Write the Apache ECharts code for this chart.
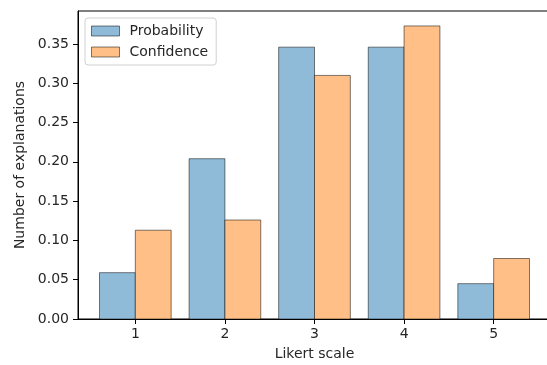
<!DOCTYPE html>
<html>
<head>
<meta charset="utf-8">
<script src="https://cdn.jsdelivr.net/npm/echarts@6/dist/echarts.min.js"></script>
<style>
  html, body { margin: 0; padding: 0; background: #fff; }
  #chart { width: 547px; height: 365px; }
</style>
</head>
<body>
<div id="chart"></div>
<script>
// Likert scale categories and the two series
const likert = [1, 2, 3, 4, 5];
const probability = [0.059, 0.204, 0.346, 0.346, 0.045];
const confidence = [0.113, 0.126, 0.310, 0.373, 0.077];
const yTicks = [0, 0.05, 0.1, 0.15, 0.2, 0.25, 0.3, 0.35];

const BAR_W = 0.4;
const font = "DejaVu Sans";
const textColor = "#262626";

// one rectangle per bar, placed via the value axes
const barRenderer = (offset, fill) => (params, api) => {
  const x = api.value(0);
  const v = api.value(1);
  const p0 = api.coord([x + offset, v]);
  const p1 = api.coord([x + offset + BAR_W, 0]);
  return {
    type: "rect",
    shape: { x: p0[0], y: p0[1], width: p1[0] - p0[0], height: p1[1] - p0[1] },
    style: { fill: fill, stroke: "rgba(0,0,0,0.5)", lineWidth: 1 },
  };
};

const blue = "#8fbbd9";
const orange = "#ffbf86";

const chart = echarts.init(document.getElementById("chart"));
chart.setOption({
  backgroundColor: "#fff",
  animation: false,
  grid: {
    left: 78, top: 11, width: 473, height: 308,
    outerBoundsMode: "none",
    containLabel: false,
    show: true, borderColor: "#000", borderWidth: 1, backgroundColor: "transparent",
  },
  legend: {
    orient: "vertical",
    left: 85, top: 18,
    padding: [6, 8, 6, 6],
    itemWidth: 28, itemHeight: 10, itemGap: 7,
    backgroundColor: "#fff",
    borderColor: "#d0d0d0", borderWidth: 1, borderRadius: 3,
    textStyle: { fontFamily: font, fontSize: 14, color: textColor, lineHeight: 14, padding: [0, 0, 0, 5] },
    data: [
      { name: "Probability", icon: "rect", itemStyle: { color: blue, borderColor: "rgba(0,0,0,0.5)", borderWidth: 1 } },
      { name: "Confidence", icon: "rect", itemStyle: { color: orange, borderColor: "rgba(0,0,0,0.5)", borderWidth: 1 } },
    ],
  },
  xAxis: {
    type: "value",
    min: 0.36, max: 5.64,
    name: "Likert scale",
    nameLocation: "middle",
    nameGap: 28,
    nameTextStyle: { fontFamily: font, fontSize: 14, color: textColor },
    splitLine: { show: false },
    axisLine: { show: true, lineStyle: { color: "#000", width: 1 } },
    axisTick: { show: true, length: 5, customValues: likert, lineStyle: { color: "#000" } },
    axisLabel: {
      customValues: likert, margin: 8,
      fontFamily: font, fontSize: 14, color: textColor,
      formatter: (v) => String(v),
    },
  },
  yAxis: {
    type: "value",
    min: 0, max: 0.392,
    name: "Number of explanations",
    nameLocation: "middle",
    nameGap: 50,
    nameTextStyle: { fontFamily: font, fontSize: 14, color: textColor },
    splitLine: { show: false },
    axisLine: { show: true, lineStyle: { color: "#000", width: 1 } },
    axisTick: { show: true, length: 5, customValues: yTicks, lineStyle: { color: "#000" } },
    axisLabel: {
      customValues: yTicks, margin: 9,
      fontFamily: font, fontSize: 14, color: textColor,
      formatter: (v) => v.toFixed(2),
    },
  },
  series: [
    {
      name: "Probability",
      type: "custom",
      color: blue,
      renderItem: barRenderer(-BAR_W, blue),
      encode: { x: 0, y: 1 },
      data: likert.map((k, i) => [k, probability[i]]),
    },
    {
      name: "Confidence",
      type: "custom",
      color: orange,
      renderItem: barRenderer(0, orange),
      encode: { x: 0, y: 1 },
      data: likert.map((k, i) => [k, confidence[i]]),
    },
  ],
});
</script>
</body>
</html>
